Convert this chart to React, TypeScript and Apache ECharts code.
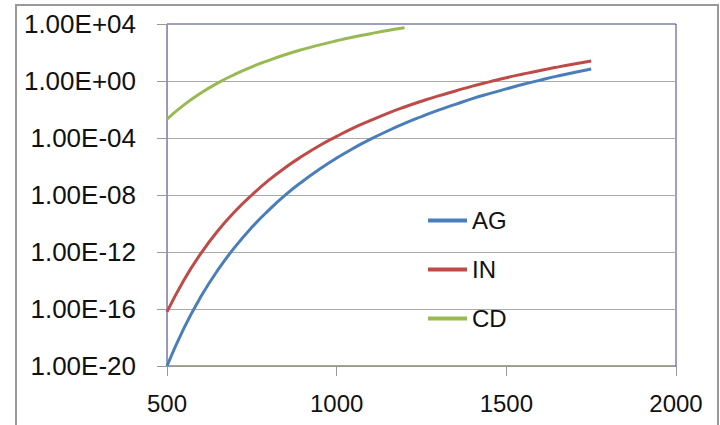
import React, { useEffect, useRef } from "react";
import * as echarts from "echarts";

const temps = [500, 550, 600, 650, 700, 750, 800, 850, 900, 950, 1000, 1050, 1100, 1150, 1200, 1250, 1300, 1350, 1400, 1450, 1500, 1550, 1600, 1650, 1700, 1750];
const agValues = [1.0e-20, 4.6e-18, 7.4e-16, 5.5e-14, 2.2e-12, 5.4e-11, 8.7e-10, 1.05e-8, 9.3e-8, 6.6e-7, 3.9e-6, 1.95e-5, 8.3e-5, 3.1e-4, 1.05e-3, 3.2e-3, 9.1e-3, 0.023, 0.058, 0.13, 0.28, 0.59, 1.15, 2.2, 4.0, 6.9];
const inValues = [6.3e-17, 1.1e-14, 8.1e-13, 3.1e-11, 6.9e-10, 1.0e-8, 1.1e-7, 8.9e-7, 5.6e-6, 3.0e-5, 1.3e-4, 5.1e-4, 1.7e-3, 5.4e-3, 0.015, 0.038, 0.091, 0.2, 0.44, 0.87, 1.7, 3.1, 5.5, 9.4, 15.6, 25];
const cdTemps = [500, 550, 600, 650, 700, 750, 800, 850, 900, 950, 1000, 1050, 1100, 1150, 1200];
const cdValues = [2.1e-3, 0.021, 0.145, 0.74, 2.95, 9.9, 28, 72, 165, 345, 670, 1230, 2100, 3500, 5500];
const seriesNames = ["AG", "IN", "CD"];
const seriesColors = ["#4a7ebb", "#be4b48", "#98b954"];

const fmtSci = (v: number) => {
  const e = Math.round(Math.log10(v));
  const sign = e < 0 ? "-" : "+";
  const a = Math.abs(e);
  return "1.00E" + sign + (a < 10 ? "0" + a : String(a));
};

export default function App() {
  const ref = useRef<HTMLDivElement>(null);
  useEffect(() => {
    if (!ref.current) return;
    const chart = echarts.init(ref.current, null, { renderer: "svg" });
    const font = "'Liberation Sans', Arial, sans-serif";
    const pairs = (xs: number[], ys: number[]) => xs.map((x, i) => [x, ys[i]]);
    const dataSets = [pairs(temps, agValues), pairs(temps, inValues), pairs(cdTemps, cdValues)];
    chart.setOption({
      animation: false,
      backgroundColor: "#ffffff",
      graphic: [
        {
          type: "rect",
          shape: { x: 16, y: 5, width: 702, height: 430 },
          style: { fill: "none", stroke: "#999999", lineWidth: 2 },
          z: -10,
        },
      ],
      grid: {
        left: 167,
        right: 44,
        top: 24,
        bottom: 59,
        show: true,
        borderColor: "#3c3c8c",
        borderWidth: 1,
      },
      legend: {
        orient: "vertical",
        left: 428,
        top: 208,
        padding: 0,
        itemWidth: 39,
        itemHeight: 4,
        itemGap: 24,
        icon: "rect",
        data: seriesNames,
        textStyle: { fontFamily: font, fontSize: 24, color: "#111", lineHeight: 25 },
      },
      xAxis: {
        type: "value",
        min: 500,
        max: 2000,
        interval: 500,
        axisLine: { show: true, lineStyle: { color: "#999999", width: 1 } },
        axisTick: { show: true, inside: false, length: 10, lineStyle: { color: "#999999" } },
        splitLine: { show: false },
        axisLabel: { fontFamily: font, fontSize: 24, color: "#111", margin: 25, formatter: (v: number) => String(v) },
      },
      yAxis: {
        type: "log",
        logBase: 10,
        min: 1e-20,
        max: 1e4,
        interval: 4,
        axisLine: { show: true, lineStyle: { color: "#999999", width: 1 } },
        axisTick: { show: true, inside: false, length: 10, lineStyle: { color: "#999999" } },
        splitLine: { show: true, showMaxLine: false, lineStyle: { color: "#aaaaaa", width: 1 } },
        axisLabel: { fontFamily: font, fontSize: 26, color: "#111", margin: 31, formatter: fmtSci },
      },
      series: seriesNames.map((name, i) => ({
        name,
        type: "line",
        data: dataSets[i],
        smooth: true,
        symbol: "none",
        color: seriesColors[i],
        lineStyle: { color: seriesColors[i], width: 3 },
      })),
    });
    return () => chart.dispose();
  }, []);
  return (
    <div
      ref={ref}
      style={{ position: "fixed", left: 0, top: 0, width: 720, height: 425 }}
    />
  );
}
